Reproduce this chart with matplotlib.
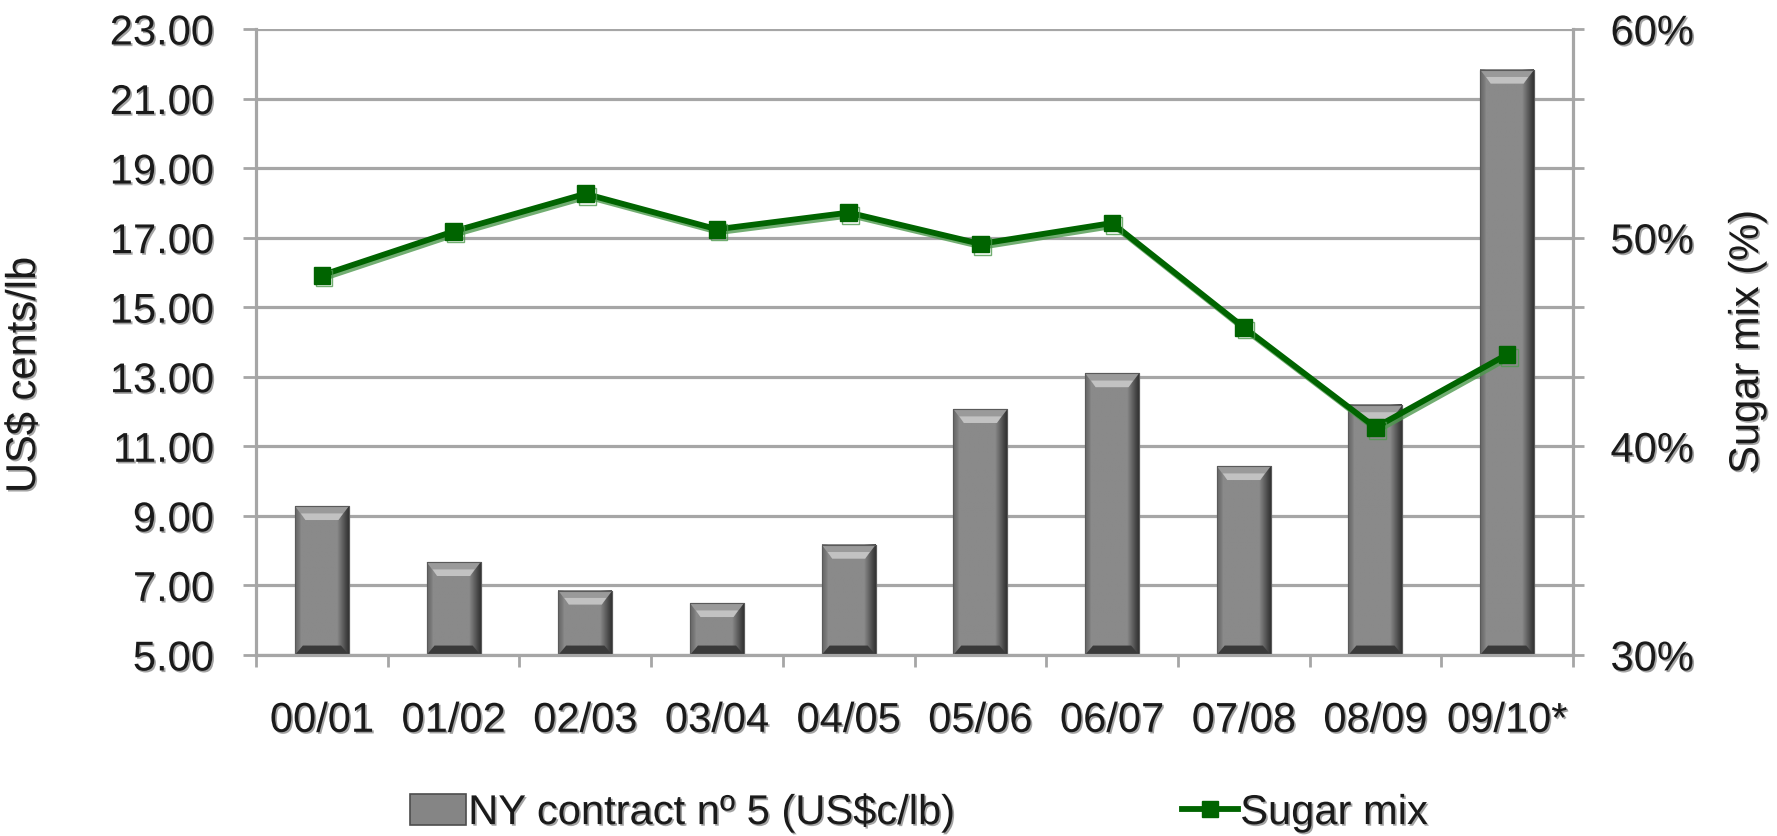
import numpy as np
import matplotlib
matplotlib.use('Agg')
import matplotlib.pyplot as plt
import matplotlib.patheffects as pe
from matplotlib.patches import Polygon, Patch
from matplotlib.lines import Line2D

plt.rcParams['font.family'] = ['Liberation Sans', 'DejaVu Sans']

seasons = ['00/01', '01/02', '02/03', '03/04', '04/05',
           '05/06', '06/07', '07/08', '08/09', '09/10*']
ny_price = [9.28, 7.67, 6.85, 6.49, 8.17, 12.07, 13.10, 10.43, 12.19, 21.83]
sugar_mix = [48.2, 50.3, 52.1, 50.4, 51.2, 49.7, 50.7, 45.7, 40.9, 44.4]
left_ticks = np.arange(5, 24, 2)
right_ticks = [30, 40, 50, 60]

grid_c = '#a6a6a6'
green = '#006400'
txt_c = '#1a1a1a'
fs = 30
shadow = [pe.withSimplePatchShadow(offset=(1.2, -1.2), shadow_rgbFace='#9a9a9a', alpha=0.9)]

fig = plt.figure(figsize=(17.77, 8.37), dpi=100)
ax = fig.add_axes([0.1441, 0.2163, 0.7411, 0.7479])
ax2 = ax.twinx()

x = np.arange(len(seasons))
w = 0.41
base = 5.0
bars = ax.bar(x, np.array(ny_price) - base, bottom=base, width=w,
              color='#858585', edgecolor='#6a6a6a', linewidth=0.8, zorder=2)

# horizontal shading across each bar face
grad = np.concatenate([np.linspace(0.40, 0.50, 7), np.full(44, 0.54),
                       np.linspace(0.54, 0.20, 15)])
grad_img = np.tile(grad, (2, 1))
dx, dy, dyb = 0.08, 0.40, 0.27
for r in bars:
    x0 = r.get_x()
    x1 = x0 + r.get_width()
    y0 = r.get_y()
    y1 = y0 + r.get_height()
    ax.imshow(grad_img, cmap='gray', vmin=0, vmax=1, extent=(x0, x1, y0, y1),
              aspect='auto', interpolation='bilinear', zorder=2.1)
    # top bevel
    ax.add_patch(Polygon([(x0, y1), (x1, y1), (x1 - dx, y1 - dy), (x0 + dx, y1 - dy)],
                         closed=True, facecolor='#9a9a9a', edgecolor='none', zorder=2.2))
    ax.add_patch(Polygon([(x0 + 0.045, y1 - 0.21), (x1 - 0.045, y1 - 0.21),
                          (x1 - dx, y1 - dy), (x0 + dx, y1 - dy)],
                         closed=True, facecolor='#c2c2c2', edgecolor='none', zorder=2.25))
    # bottom bevel
    ax.add_patch(Polygon([(x0, y0), (x1, y0), (x1 - 0.06, y0 + dyb), (x0 + 0.06, y0 + dyb)],
                         closed=True, facecolor='#3a3a3a', edgecolor='none', zorder=2.2))
    ax.plot([x0, x0, x1, x1], [y0, y1, y1, y0], color='#5a5a5a', lw=0.8, zorder=2.3)

ax.set_xlim(-0.5, len(seasons) - 0.5)
ax.set_ylim(5, 23)
ax.set_yticks(left_ticks)
ax.set_yticklabels(['%.2f' % t for t in left_ticks])
ax.set_xticks(x)
ax.set_xticklabels(seasons)
ax.set_xticks(np.arange(len(seasons) + 1) - 0.5, minor=True)
ax.tick_params(axis='x', which='major', length=0, pad=33, labelsize=fs, labelcolor=txt_c)
ax.tick_params(axis='x', which='minor', length=8.6, width=2, color=grid_c, direction='out')
ax.tick_params(axis='y', length=9.4, width=2, color=grid_c, pad=21, labelsize=fs,
               labelcolor=txt_c)
ax.grid(axis='y', color=grid_c, linewidth=2.3)
ax.set_axisbelow(True)
for s in ['top', 'right']:
    ax.spines[s].set_visible(False)
for s in ['left', 'bottom']:
    ax.spines[s].set_color(grid_c)
    ax.spines[s].set_linewidth(2.3)

ax2.plot(x, sugar_mix, color=green, lw=4.2, marker='s', markersize=12, zorder=5,
         path_effects=[pe.SimpleLineShadow(offset=(1.5, -2), shadow_color='#4f9a4f', alpha=0.8),
                       pe.Normal()])
ax2.set_ylim(30, 60)
ax2.set_yticks(right_ticks)
ax2.set_yticklabels(['%d%%' % t for t in right_ticks])
ax2.set_yticks([30 + (g - 5) * 30 / 18 for g in left_ticks], minor=True)
ax2.tick_params(axis='y', which='both', length=8, width=2, color=grid_c, pad=19,
                labelsize=fs, labelcolor=txt_c)
for s in ['top', 'left', 'bottom']:
    ax2.spines[s].set_visible(False)
ax2.spines['right'].set_color(grid_c)
ax2.spines['right'].set_linewidth(2.3)

ax.set_ylabel('US$ cents/lb', fontsize=fs, color=txt_c, path_effects=shadow)
ax.yaxis.set_label_coords(-0.161, 0.447)
ax2.set_ylabel('Sugar mix (%)', fontsize=fs, color=txt_c, rotation=90, path_effects=shadow)
ax2.yaxis.set_label_coords(1.117, 0.5)

for lbl in ax.get_xticklabels() + ax.get_yticklabels() + ax2.get_yticklabels():
    lbl.set_path_effects(shadow)

handles = [Patch(facecolor='#858585', edgecolor='#4d4d4d', linewidth=1.2),
           Line2D([0], [0], color=green, lw=4.2, marker='s', markersize=12)]
leg = fig.legend(handles, ['NY contract nº 5 (US$c/lb)', 'Sugar mix'], loc='center',
                 bbox_to_anchor=(0.517, 0.028), ncol=2, frameon=False, fontsize=fs,
                 handlelength=1.35, handleheight=0.75, handletextpad=0.05,
                 columnspacing=5.45)
for t in leg.get_texts():
    t.set_color(txt_c)
    t.set_path_effects(shadow)

fig.savefig('out.png', dpi=100)
